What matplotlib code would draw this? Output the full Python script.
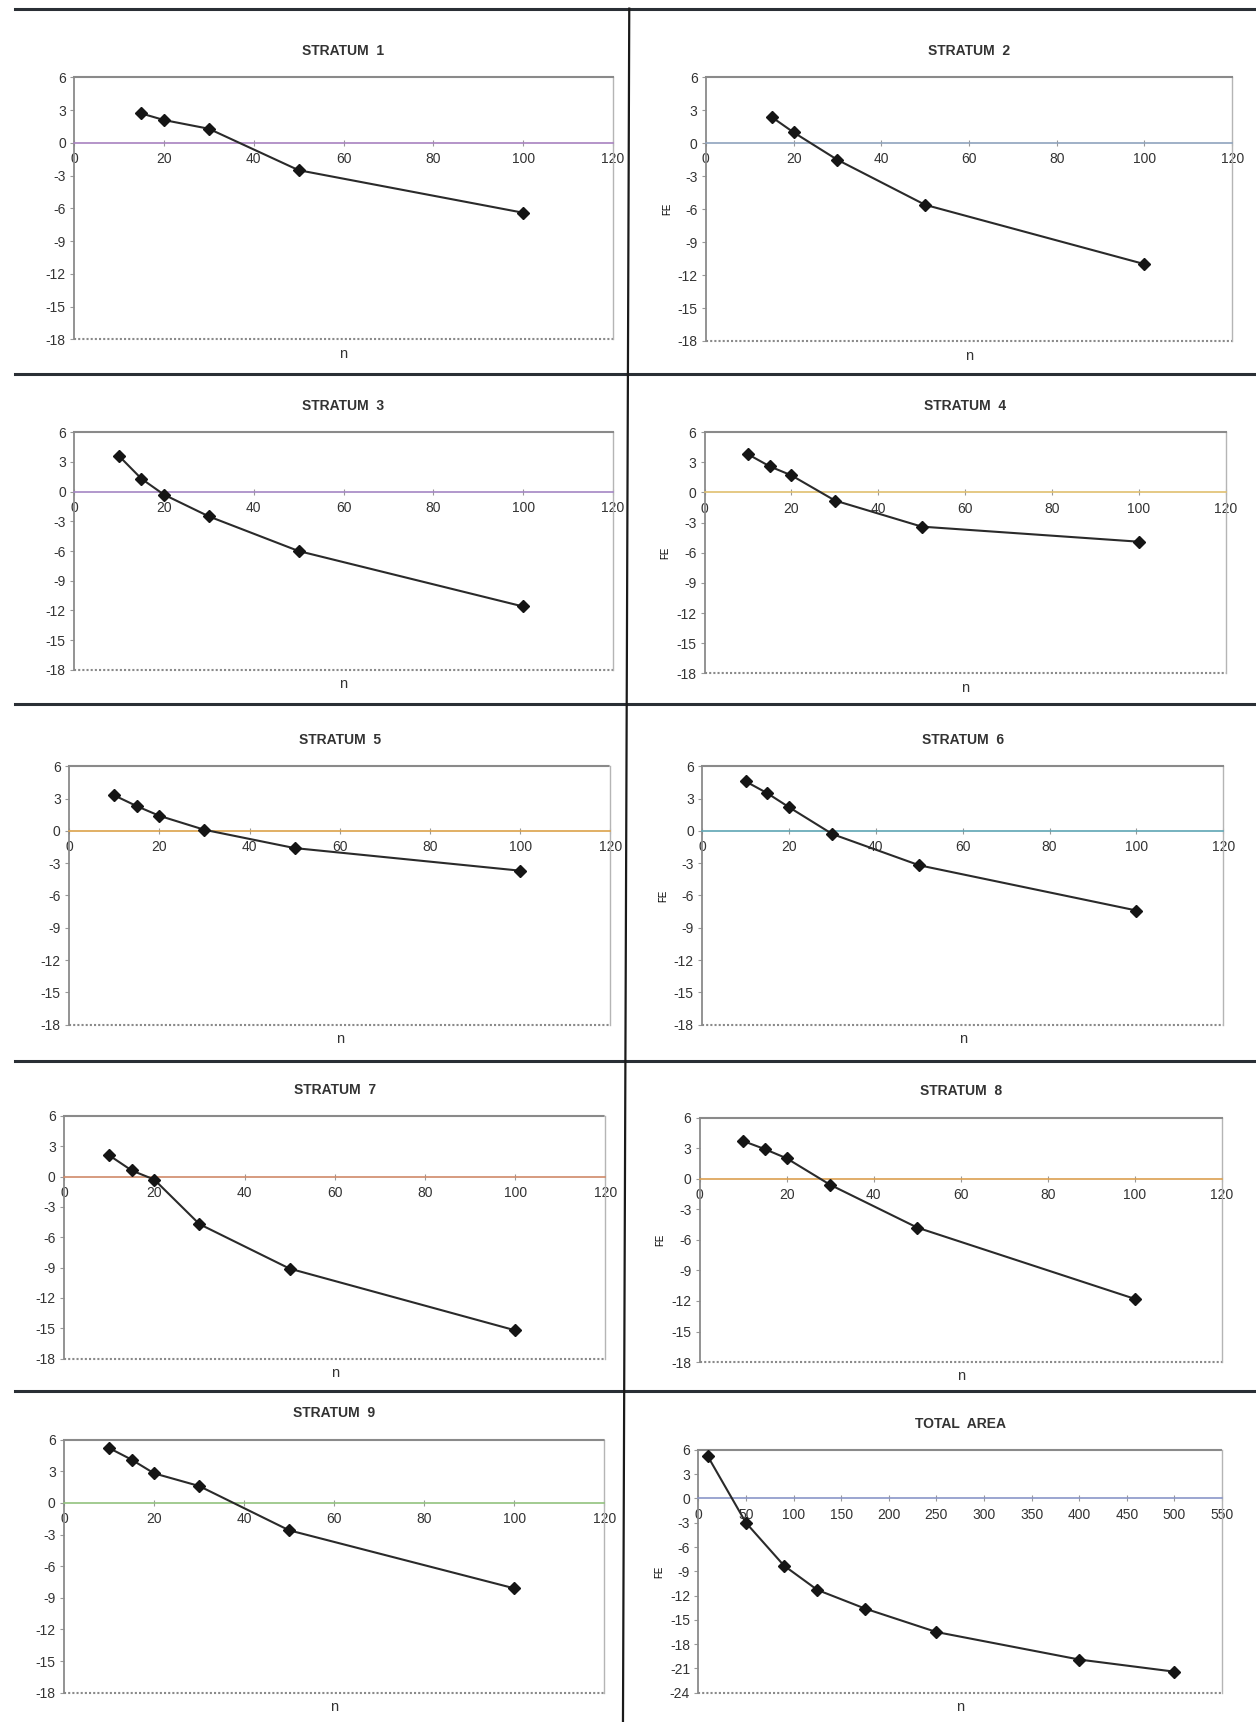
import numpy as np
import matplotlib.pyplot as plt
from matplotlib.lines import Line2D

plt.rcParams['font.family'] = ['Liberation Sans', 'DejaVu Sans']
plt.rcParams['axes.unicode_minus'] = False

# sample size n and FE values per panel
titles = ['STRATUM  1', 'STRATUM  2', 'STRATUM  3', 'STRATUM  4', 'STRATUM  5',
          'STRATUM  6', 'STRATUM  7', 'STRATUM  8', 'STRATUM  9', 'TOTAL  AREA']
n_short = [15, 20, 30, 50, 100]
n_strat = [10, 15, 20, 30, 50, 100]
n_total = [10, 50, 90, 125, 175, 250, 400, 500]

fe_1 = [2.7, 2.1, 1.3, -2.5, -6.4]
fe_2 = [2.4, 1.0, -1.5, -5.6, -11.0]
fe_3 = [3.6, 1.3, -0.3, -2.5, -6.0, -11.6]
fe_4 = [3.8, 2.6, 1.7, -0.8, -3.4, -4.9]
fe_5 = [3.3, 2.3, 1.4, 0.1, -1.6, -3.7]
fe_6 = [4.6, 3.5, 2.2, -0.3, -3.2, -7.4]
fe_7 = [2.1, 0.6, -0.3, -4.7, -9.1, -15.2]
fe_8 = [3.7, 2.9, 2.0, -0.6, -4.8, -11.8]
fe_9 = [5.2, 4.1, 2.8, 1.6, -2.6, -8.1]
fe_total = [5.2, -3.0, -8.3, -11.3, -13.6, -16.5, -19.9, -21.4]

xs = [n_short, n_short, n_strat, n_strat, n_strat, n_strat, n_strat, n_strat, n_strat, n_total]
ys = [fe_1, fe_2, fe_3, fe_4, fe_5, fe_6, fe_7, fe_8, fe_9, fe_total]

# the zero line picks up a different tint per panel in the scan
zero_col = ['#a882c0', '#8fa3bd', '#a486c4', '#e0c070', '#dca24a',
            '#5fa6b4', '#d08a6a', '#dba050', '#92c27e', '#8a96c8']

# [left, bottom, width, height] in figure fractions
boxes = [
    [0.059, 0.803, 0.429, 0.152], [0.562, 0.802, 0.419, 0.153],
    [0.059, 0.611, 0.429, 0.138], [0.561, 0.609, 0.415, 0.140],
    [0.055, 0.405, 0.431, 0.150], [0.559, 0.405, 0.415, 0.150],
    [0.051, 0.211, 0.431, 0.141], [0.557, 0.209, 0.416, 0.142],
    [0.051, 0.017, 0.430, 0.147], [0.556, 0.017, 0.417, 0.141],
]

fig = plt.figure(figsize=(12.56, 17.22), dpi=100)

for i in range(10):
    ax = fig.add_axes(boxes[i])
    total = (i == 9)
    if total:
        ax.set_xlim(0, 550)
        ax.set_ylim(-24, 6)
        ax.set_xticks(np.arange(0, 551, 50))
        ax.set_yticks(np.arange(-24, 7, 3))
    else:
        ax.set_xlim(0, 120)
        ax.set_ylim(-18, 6)
        ax.set_xticks(np.arange(0, 121, 20))
        ax.set_yticks(np.arange(-18, 7, 3))

    ax.plot(xs[i], ys[i], color='#2a2a2a', lw=1.5, marker='D', ms=6,
            markerfacecolor='#151515', markeredgecolor='#151515', zorder=5)

    ax.spines['bottom'].set_position(('data', 0))
    ax.spines['bottom'].set_color(zero_col[i])
    ax.spines['bottom'].set_linewidth(1.2)
    ax.spines['left'].set_color('#8a8a8a')
    ax.spines['left'].set_linewidth(1.3)
    ax.spines['top'].set_color('#8a8a8a')
    ax.spines['top'].set_linestyle((0, (1, 1)))
    ax.spines['top'].set_linewidth(1.5)
    ax.spines['right'].set_color('#b5b5b5')
    ax.spines['right'].set_linewidth(1.0)
    ax.axhline(ax.get_ylim()[0], color='#8a8a8a', lw=1.5, ls=(0, (1, 1)), clip_on=False)

    ax.tick_params(axis='x', direction='inout', length=5, color='#999999',
                   labelsize=10, labelcolor='#333333', pad=4)
    ax.tick_params(axis='y', direction='out', length=3, color='#999999',
                   labelsize=10, labelcolor='#333333', pad=3)

    ax.set_title(titles[i], fontsize=10, fontweight='bold', color='#333333', pad=16)
    ax.text(0.5, -0.03, 'n', transform=ax.transAxes, ha='center', va='top',
            fontsize=10.5, color='#333333')
    if i % 2 == 1:
        ax.set_ylabel('FE', fontsize=7, labelpad=4)

# panel separators
for y in [0.995, 0.783, 0.591, 0.384, 0.192]:
    fig.add_artist(Line2D([0.012, 1.0], [y, y], color='#2a2f35', lw=2.2))
fig.add_artist(Line2D([0.501, 0.496], [0.995, 0.0], color='#1a1a1a', lw=1.6))

fig.savefig('out.png', dpi=100)
